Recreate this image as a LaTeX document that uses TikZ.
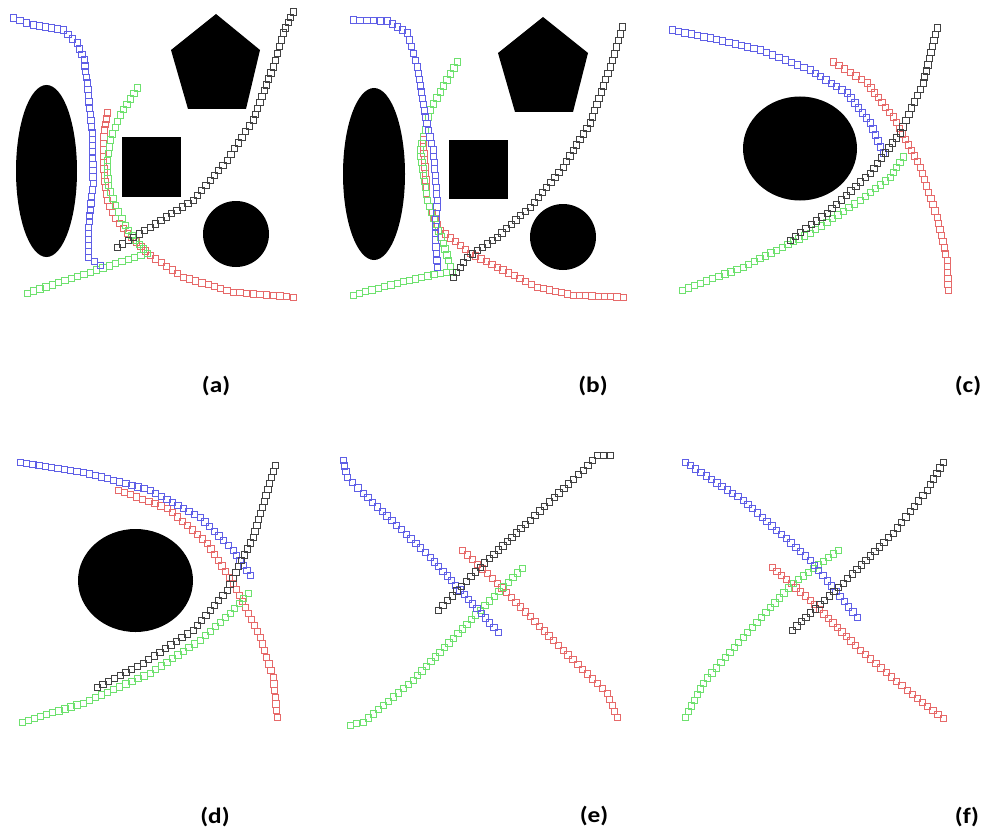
\documentclass[tikz,border=0pt]{standalone}
\usepackage{fontspec}
\usepackage{graphicx}
\setmainfont{Carlito}
\usetikzlibrary{calc}
\definecolor{tblue}{RGB}{95,95,230}
\definecolor{tred}{RGB}{230,105,105}
\definecolor{tgreen}{RGB}{110,225,110}
\definecolor{tblack}{RGB}{65,65,65}
\tikzset{
  sqmark/.style={draw=#1, line width=0.6pt},
  obstacle/.style={fill=black, draw=none},
  panellabel/.style={font=\fontsize{22}{26}\selectfont\bfseries, inner sep=0pt}
}
% A trajectory: a chain of small hollow squares laid along a polyline.
% #1 colour, #2/#3 first point, #4 remaining points as x/y pairs
\newcommand\trajectory[4]{%
  \draw[sqmark=#1] (#2,#3) +(-3.2,-3.2) rectangle +(3.2,3.2);
  \foreach \x/\y [remember=\x as \lx (initially #2), remember=\y as \ly (initially #3)] in {#4} {
    \pgfmathsetmacro\seglen{veclen(\x-\lx,\y-\ly)}
    \pgfmathtruncatemacro\nsq{max(1,round(\seglen/6.5))}
    \foreach \i in {1,...,\nsq} {
      \draw[sqmark=#1] ($(\lx,\ly)!\i/\nsq!(\x,\y)$) +(-3.2,-3.2) rectangle +(3.2,3.2);
    }
  }%
}
\newcommand\panelname[1]{\scalebox{1.15}[1]{#1}}
\begin{document}
\begin{tikzpicture}[x=1pt, y=-1pt]
\useasboundingbox[fill=white] (0,0) rectangle (985,832);

% ---------- (a) ----------
\fill[obstacle] (46.5,171) ellipse [x radius=30.5, y radius=86];
\fill[obstacle] (216,14) -- (260,50) -- (246,109) -- (188,109) -- (171,50) -- cycle;
\fill[obstacle] (122,137) rectangle (181,197);
\fill[obstacle] (236,234) circle [radius=33];
\trajectory{tred}{107}{113}{104/130, 103/150, 104/175, 107/200, 115/218, 127/233, 150/255, 183/277, 233/292, 293/297}
\trajectory{tgreen}{27}{293}{90/272, 147/253, 135/240, 125/225, 115/205, 108/185, 107/160, 110/140, 120/115, 137/88}
\trajectory{tblue}{13}{18}{33/25, 63/30, 77/43, 84/60, 87/83, 92/133, 93/183, 90/210, 88/233, 88/257, 100/265}
\trajectory{tblack}{117}{247}{150/227, 193/200, 227/160, 253/120, 273/67, 283/33, 293/12}
\node[panellabel] (la) at (216,386) {\panelname{(a)}};

% ---------- (b) ----------
\fill[obstacle] (374,174) ellipse [x radius=31, y radius=86];
\fill[obstacle] (543,17) -- (588,53) -- (573,112) -- (515,112) -- (498,53) -- cycle;
\fill[obstacle] (449,140) rectangle (508,199);
\fill[obstacle] (563,237) circle [radius=33];
\trajectory{tred}{423}{140}{427/200, 440/230, 470/253, 497/267, 537/287, 573/295, 623/297}
\trajectory{tgreen}{353}{295}{397/283, 440/273, 452/272, 443/243, 427/200, 420/150, 430/110, 457/62}
\trajectory{tblue}{353}{20}{387/21, 407/33, 417/67, 425/117, 433/150, 437/200, 435/233, 437/267}
\trajectory{tblack}{453}{277}{467/257, 497/237, 530/207, 563/167, 590/123, 610/67, 622/27}
\node[panellabel] (lb) at (593,386) {\panelname{(b)}};

% ---------- (c) ----------
\fill[obstacle] (800,148.5) ellipse [x radius=57, y radius=52];
\trajectory{tred}{833}{62}{867/83, 893/117, 920/167, 937/217, 947/260, 948/290}
\trajectory{tgreen}{682}{290}{743/267, 810/233, 860/200, 890/177, 903/157}
\trajectory{tblue}{672}{30}{710/38, 760/50, 810/70, 847/93, 870/123, 883/153}
\trajectory{tblack}{790}{240}{827/213, 870/173, 900/133, 923/83, 937/28}
\node[panellabel] (lc) at (968,386) {\panelname{(c)}};

% ---------- (d) ----------
\fill[obstacle] (135.5,580.5) ellipse [x radius=57.5, y radius=51.5];
\trajectory{tred}{118}{490}{167/508, 207/543, 233/583, 260/637, 273/677, 277/717}
\trajectory{tgreen}{22}{722}{83/703, 150/673, 200/640, 230/613, 248/593}
\trajectory{tblue}{20}{462}{83/472, 150/490, 200/517, 233/550, 250/575}
\trajectory{tblack}{97}{687}{143/663, 193/630, 227/590, 253/537, 275/465}
\node[panellabel] (ld) at (215,817) {\panelname{(d)}};

% ---------- (e) ----------
\trajectory{tred}{462}{550}{497/583, 563/650, 607/693, 617/717}
\trajectory{tgreen}{350}{725}{363/722, 413/680, 480/610, 522/568}
\trajectory{tblue}{343}{460}{347/477, 363/493, 430/557, 498/632}
\trajectory{tblack}{438}{610}{480/567, 530/520, 583/470, 597/455, 610/455}
\node[panellabel] (le) at (594,816) {\panelname{(e)}};

% ---------- (f) ----------
\trajectory{tred}{772}{567}{810/600, 860/650, 907/690, 943/718}
\trajectory{tgreen}{685}{717}{703/683, 743/637, 793/583, 838/550}
\trajectory{tblue}{685}{462}{743/500, 810/560, 857/617}
\trajectory{tblack}{792}{630}{843/583, 893/533, 927/490, 943/462}
\node[panellabel] (lf) at (967,817) {\panelname{(f)}};
\end{tikzpicture}
\end{document}
